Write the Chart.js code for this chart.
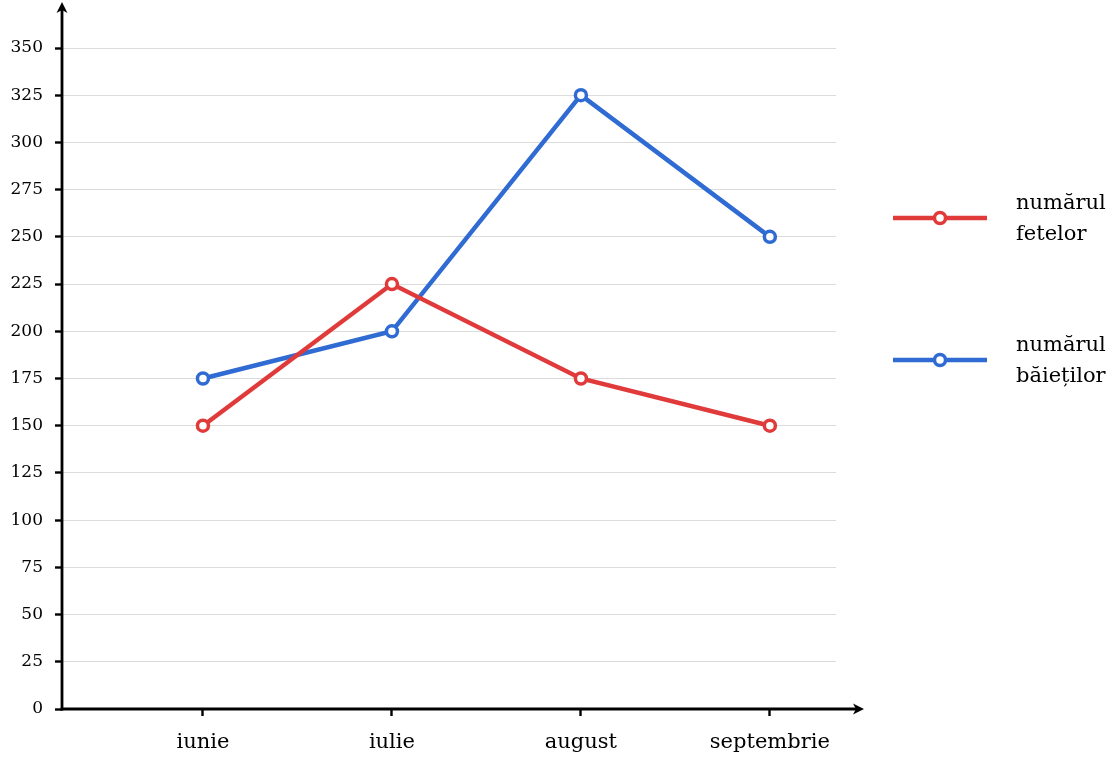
<!DOCTYPE html>
<html>
<head>
<meta charset="utf-8">
<script src="https://cdn.jsdelivr.net/npm/chart.js@4.4.0/dist/chart.umd.min.js"></script>
<style>
  html, body { margin: 0; padding: 0; background: #fff; }
  #wrap { width: 1119px; height: 766px; }
</style>
</head>
<body>
<div id="wrap"><canvas id="myLineChart" width="1119" height="766"></canvas></div>
<script>
// ============================= DATA
let months = ["iunie", "iulie", "august", "septembrie"];
let fete = [150, 225, 175, 150];
let baieti = [175, 200, 325, 250];
let seriesNames = [["numărul", "fetelor"], ["numărul", "băieților"]];
let seriesColors = ["#e03a3a", "#2f6bd2"];

let serif = "'DejaVu Serif', serif";

// axes with arrow heads
let arrowAxes = {
    id: 'arrowAxes',
    afterDraw(chart) {
        let c = chart.ctx;
        let a = chart.chartArea;
        c.save();
        c.strokeStyle = '#000';
        c.fillStyle = '#000';
        c.lineWidth = 2.8;
        // y axis
        c.beginPath();
        c.moveTo(a.left, a.bottom + 1.4);
        c.lineTo(a.left, 8);
        c.stroke();
        c.beginPath();
        c.moveTo(a.left, 2);
        c.lineTo(a.left + 5.5, 13);
        c.lineTo(a.left, 10);
        c.lineTo(a.left - 5.5, 13);
        c.closePath();
        c.fill();
        // x axis
        let xEnd = a.right + 28;
        c.beginPath();
        c.moveTo(a.left - 1.4, a.bottom);
        c.lineTo(xEnd - 6, a.bottom);
        c.stroke();
        c.beginPath();
        c.moveTo(xEnd, a.bottom);
        c.lineTo(xEnd - 11, a.bottom - 5.5);
        c.lineTo(xEnd - 8, a.bottom);
        c.lineTo(xEnd - 11, a.bottom + 5.5);
        c.closePath();
        c.fill();
        c.restore();
    }
};

// legend on the right, two-line labels
let sideLegend = {
    id: 'sideLegend',
    afterDraw(chart) {
        let c = chart.ctx;
        let a = chart.chartArea;
        let ys = [218, 360];
        c.save();
        chart.data.datasets.forEach((ds, i) => {
            let y = ys[i];
            let x0 = a.right + 57;
            c.strokeStyle = ds.borderColor;
            c.lineWidth = 4.5;
            c.beginPath();
            c.moveTo(x0, y);
            c.lineTo(x0 + 94, y);
            c.stroke();
            c.beginPath();
            c.arc(x0 + 47, y, 5.5, 0, Math.PI * 2);
            c.fillStyle = '#fff';
            c.fill();
            c.lineWidth = 3.5;
            c.stroke();
            c.fillStyle = '#000';
            c.font = "21px " + serif;
            c.textBaseline = 'middle';
            c.textAlign = 'left';
            ds.label.forEach((line, k) => {
                c.fillText(line, x0 + 123, y - 14 + k * 31);
            });
        });
        c.restore();
    }
};

let ctx = document.querySelector("#myLineChart").getContext('2d');
let myLineChart = new Chart(ctx, {
    type: 'line',
    data: {
        datasets: [
            {
                label: seriesNames[0],
                data: fete.map((v, i) => ({ x: i, y: v })),
                borderColor: seriesColors[0],
                backgroundColor: '#fff',
            },
            {
                label: seriesNames[1],
                data: baieti.map((v, i) => ({ x: i, y: v })),
                borderColor: seriesColors[1],
                backgroundColor: '#fff',
            }
        ]
    },
    options: {
        responsive: false,
        animation: false,
        layout: {
            padding: { left: 0, right: 283, top: 48, bottom: 0 }
        },
        elements: {
            line: { borderWidth: 4.5, tension: 0 },
            point: { radius: 5.5, borderWidth: 3.5, hoverRadius: 5.5 }
        },
        plugins: {
            legend: { display: false },
            tooltip: { enabled: false }
        },
        scales: {
            x: {
                type: 'linear',
                min: -0.746,
                max: 3.35,
                afterBuildTicks: (scale) => {
                    scale.ticks = months.map((m, i) => ({ value: i }));
                },
                afterFit: (scale) => { scale.height = 57; },
                border: { display: false },
                grid: {
                    drawOnChartArea: false,
                    drawTicks: true,
                    tickLength: 7,
                    tickColor: '#000',
                    tickWidth: 2.4
                },
                ticks: {
                    padding: 14,
                    color: '#000',
                    font: { family: serif, size: 21 },
                    callback: (v) => months[v]
                }
            },
            y: {
                min: 0,
                max: 350,
                afterFit: (scale) => { scale.width = 62; },
                border: { display: false },
                grid: {
                    color: '#dcdcdc',
                    lineWidth: 1,
                    drawTicks: true,
                    tickLength: 7,
                    tickColor: '#000',
                    tickWidth: 2.4
                },
                ticks: {
                    stepSize: 25,
                    padding: 12,
                    color: '#000',
                    font: { family: serif, size: 17 }
                }
            }
        }
    },
    plugins: [arrowAxes, sideLegend]
});
</script>
</body>
</html>
